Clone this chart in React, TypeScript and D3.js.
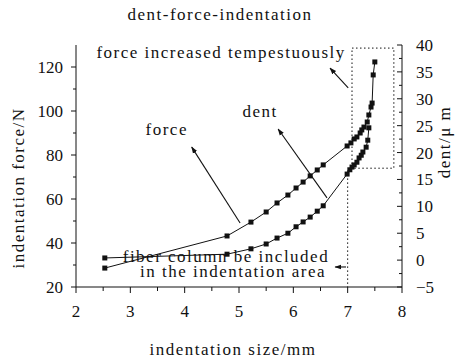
import React from 'react';
import * as d3 from 'd3';

// indentation size (mm) vs. force (N), left axis
const forceSize = [2.53, 4.78, 5.22, 5.5, 5.7, 5.9, 6.05, 6.18, 6.31, 6.44, 6.55, 6.99, 7.06, 7.12, 7.17, 7.23, 7.26, 7.3, 7.36, 7.39, 7.43, 7.45, 7.47, 7.5];
const forceValues = [28.6, 43.2, 49.5, 54.1, 58.2, 61.8, 65.0, 67.7, 70.5, 73.2, 75.5, 84.1, 85.5, 87.3, 88.2, 90.0, 91.4, 92.7, 95.0, 98.2, 101.8, 103.6, 116.4, 122.3];

// indentation size (mm) vs. dent (um), right axis
const dentSize = [2.53, 4.78, 5.22, 5.5, 5.7, 5.9, 6.05, 6.18, 6.31, 6.44, 6.55, 6.99, 7.04, 7.08, 7.12, 7.17, 7.21, 7.25, 7.28, 7.34, 7.37, 7.39];
const dentValues = [0.4, 1.1, 2.1, 3.0, 4.1, 5.0, 6.2, 7.1, 8.0, 9.1, 10.1, 16.0, 16.8, 17.3, 17.7, 18.2, 19.0, 19.5, 20.1, 21.0, 22.3, 24.6];

const xTicks = [2, 3, 4, 5, 6, 7, 8];
const forceTicks = [20, 40, 60, 80, 100, 120];
const dentTicks = [-5, 0, 5, 10, 15, 20, 25, 30, 35, 40];

const W = 472;
const H = 360;
const m = { left: 76, right: 70, top: 45, bottom: 73 };
const font = 'Liberation Serif, DejaVu Serif, serif';

export default function App() {
  const x = d3.scaleLinear().domain([2, 8]).range([m.left, W - m.right]);
  const yF = d3.scaleLinear().domain([20, 130]).range([H - m.bottom, m.top]);
  const yD = d3.scaleLinear().domain([-5, 40]).range([H - m.bottom, m.top]);

  const forcePts: [number, number][] = forceSize.map((s, i) => [x(s), yF(forceValues[i])]);
  const dentPts: [number, number][] = dentSize.map((s, i) => [x(s), yD(dentValues[i])]);
  const line = d3.line();

  const x0 = m.left, x1 = W - m.right, yb = H - m.bottom, yt = m.top;
  const minorX = d3.range(2.5, 8, 1);
  const minorF = d3.range(30, 130, 20);
  const minorD = d3.range(-2.5, 40, 5);

  const txt = { style: { fontFamily: font, fontSize: '17px', letterSpacing: '1.5px', fill: '#111' } };

  // annotation arrows, given in data space (x, force)
  const arrows = [
    [7.01, 110.5, 6.675, 119.5],
    [5.02, 49.1, 4.13, 83.6],
    [6.62, 60.5, 5.72, 91.8],
    [6.97, 29.1, 6.77, 29.1],
  ];

  return (
    <svg width={W} height={H} style={{ position: 'absolute', left: 0, top: 0, background: '#fff' }}>
      <defs>
        <marker id="ah" viewBox="0 0 10 10" refX="9" refY="5" markerWidth="7" markerHeight="7" orient="auto" markerUnits="userSpaceOnUse">
          <path d="M0,1.5 L10,5 L0,8.5 z" fill="#111" />
        </marker>
      </defs>

      <text x={W / 2 - 16} y={20} textAnchor="middle" {...txt}>dent-force-indentation</text>

      {/* axes */}
      <g stroke="#111" strokeWidth={1} fill="none">
        <line x1={x0} x2={x1} y1={yb} y2={yb} />
        <line x1={x0} x2={x0} y1={yt} y2={yb} />
        <line x1={x1} x2={x1} y1={yt} y2={yb} />
        {xTicks.map((t) => <line key={'xt' + t} x1={x(t)} x2={x(t)} y1={yb} y2={yb + 6} />)}
        {minorX.map((t) => <line key={'xm' + t} x1={x(t)} x2={x(t)} y1={yb} y2={yb + 4} />)}
        {forceTicks.map((t) => <line key={'ft' + t} x1={x0 - 5} x2={x0} y1={yF(t)} y2={yF(t)} />)}
        {minorF.map((t) => <line key={'fm' + t} x1={x0 - 3} x2={x0} y1={yF(t)} y2={yF(t)} />)}
        {dentTicks.map((t) => <line key={'dt' + t} x1={x1 - 5} x2={x1} y1={yD(t)} y2={yD(t)} />)}
        {minorD.map((t) => <line key={'dm' + t} x1={x1 - 3} x2={x1} y1={yD(t)} y2={yD(t)} />)}
      </g>

      <g style={{ fontFamily: font, fontSize: '17px', fill: '#111' }}>
        {xTicks.map((t) => <text key={'xl' + t} x={x(t)} y={yb + 30} textAnchor="middle">{t}</text>)}
        {forceTicks.map((t) => <text key={'fl' + t} x={x0 - 13} y={yF(t)} dy="0.35em" textAnchor="end">{t}</text>)}
        {dentTicks.map((t) => <text key={'dl' + t} x={x1 + 14} y={yD(t)} dy="0.35em" textAnchor="start">{t < 0 ? '\u2212' + Math.abs(t) : t}</text>)}
      </g>

      <text x={233} y={355} textAnchor="middle" {...txt}>indentation size/mm</text>
      <text transform={`translate(24,188) rotate(-90)`} textAnchor="middle" {...txt}>indentation force/N</text>
      <text transform={`translate(450,142) rotate(-90)`} textAnchor="middle" {...txt}>dent/μ m</text>

      {/* dotted annotations */}
      <g stroke="#111" strokeWidth={1} strokeDasharray="1.5,2.5" fill="none">
        <rect x={x(7.08)} y={yF(128.6)} width={x(7.85) - x(7.08)} height={yF(74) - yF(128.6)} />
        <line x1={x(7)} x2={x(7)} y1={yF(73)} y2={yb} />
      </g>

      {/* series */}
      <path d={line(forcePts) || ''} fill="none" stroke="#111" strokeWidth={1} />
      <path d={line(dentPts) || ''} fill="none" stroke="#111" strokeWidth={1} />
      <g fill="#111">
        {forcePts.map(([px, py], i) => <rect key={'f' + i} x={px - 2.5} y={py - 2.5} width={5} height={5} />)}
        {dentPts.map(([px, py], i) => <rect key={'d' + i} x={px - 2.5} y={py - 2.5} width={5} height={5} />)}
      </g>

      {/* arrows */}
      <g stroke="#111" strokeWidth={1.1}>
        {arrows.map(([a, b, c, d], i) => (
          <line key={'a' + i} x1={x(a)} y1={yF(b)} x2={x(c)} y2={yF(d)} markerEnd="url(#ah)" />
        ))}
      </g>

      <text x={x(4.67)} y={yF(124.1)} textAnchor="middle" {...txt}>force increased tempestuously</text>
      <text x={x(3.67)} y={yF(89)} textAnchor="middle" {...txt}>force</text>
      <text x={x(5.39)} y={yF(97.3)} textAnchor="middle" {...txt}>dent</text>
      <text x={x(4.76)} y={yF(31.3)} textAnchor="middle" {...txt}>fiber column be included</text>
      <text x={x(4.89)} y={yF(24.5)} textAnchor="middle" {...txt}>in the indentation area</text>
    </svg>
  );
}
